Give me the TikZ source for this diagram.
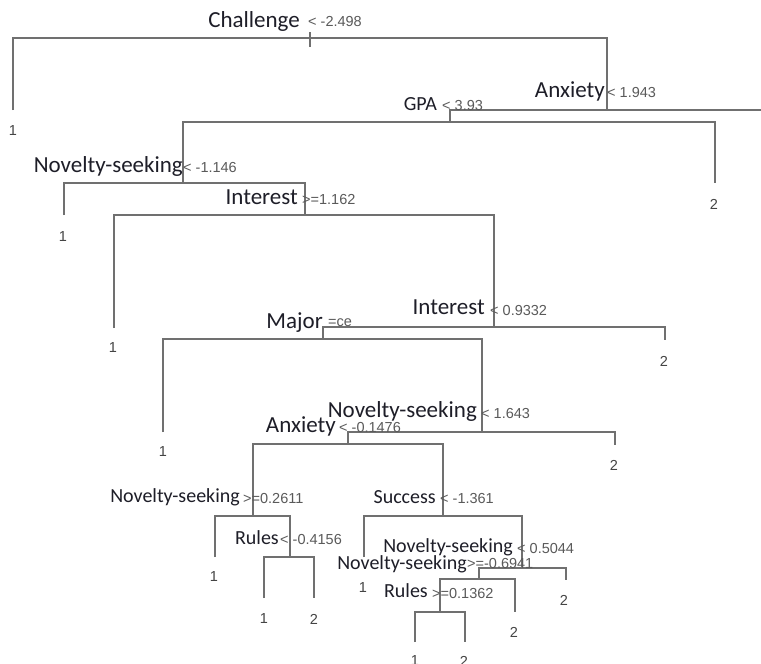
\documentclass[tikz,border=0pt]{standalone}
\usepackage{fontspec}
\setmainfont{Carlito}
\newfontfamily\numfont{Liberation Sans}
\definecolor{linegray}{HTML}{707070}
\definecolor{namecol}{HTML}{1E1E28}
\definecolor{numcol}{HTML}{5A5A5A}
\definecolor{leafcol}{HTML}{444444}
\begin{document}
\begin{tikzpicture}[x=1pt,y=-1pt,
  edge/.style={draw=linegray, line width=1.7pt},
  bigname/.style={anchor=base east, inner sep=0pt, font=\fontsize{23}{23}\selectfont, text=namecol},
  smallname/.style={anchor=base east, inner sep=0pt, font=\fontsize{20}{20}\selectfont, text=namecol},
  thr/.style={anchor=base west, inner sep=0pt, font=\numfont\fontsize{14.5}{14.5}\selectfont, text=numcol},
  leaf/.style={inner sep=0pt, font=\numfont\fontsize{14.5}{14.5}\selectfont, text=leafcol}]
\clip (0,0) rectangle (761,664);
\fill[white] (0,0) rectangle (761,664);
% split bars
\coordinate (rtop) at (310,32);
\coordinate (rbot) at (310,47);
\coordinate (b1) at (310,38);
\coordinate (b2) at (607,110);
\coordinate (offr) at (775,110);
\coordinate (b3) at (450,122);
\coordinate (b4) at (183,183);
\coordinate (b5) at (305,215);
\coordinate (b6) at (494,327);
\coordinate (b7) at (323,339);
\coordinate (b8) at (482,432);
\coordinate (b9) at (348,444);
\coordinate (b10) at (253,516);
\coordinate (b11) at (290,557);
\coordinate (b12) at (443,516);
\coordinate (b13) at (522,568);
\coordinate (b14) at (479,579);
\coordinate (b15) at (440,612);
% leaf ends
\coordinate (L1) at (13,110);
\coordinate (L3) at (715,183);
\coordinate (L4) at (64,215);
\coordinate (L5) at (114,328);
\coordinate (L6) at (665,340);
\coordinate (L7) at (163,432);
\coordinate (L8) at (615,445);
\coordinate (L9) at (215,557);
\coordinate (L10) at (264,598);
\coordinate (L11) at (314,598);
\coordinate (L12) at (364,557);
\coordinate (L13) at (566,580);
\coordinate (L14) at (515,612);
\coordinate (L15) at (415,642);
\coordinate (L16) at (465,642);
% edges
\draw[edge] (rtop) -- (rbot);
\draw[edge] (L1) |- (b1) -| (b2);
\draw[edge] (b3) |- (b2) -- (offr);
\draw[edge] (b4) |- (b3) -| (L3);
\draw[edge] (L4) |- (b4) -| (b5);
\draw[edge] (L5) |- (b5) -| (b6);
\draw[edge] (b7) |- (b6) -| (L6);
\draw[edge] (L7) |- (b7) -| (b8);
\draw[edge] (b9) |- (b8) -| (L8);
\draw[edge] (b10) |- (b9) -| (b12);
\draw[edge] (L9) |- (b10) -| (b11);
\draw[edge] (L10) |- (b11) -| (L11);
\draw[edge] (L12) |- (b12) -| (b13);
\draw[edge] (b14) |- (b13) -| (L13);
\draw[edge] (b15) |- (b14) -| (L14);
\draw[edge] (L15) |- (b15) -| (L16);
% split labels
\node[bigname] (n1) at (300,27) {Challenge};
\node[thr] (t1) at (308,26) {< -2.498};
\node[bigname] (n2) at (605,97) {Anxiety};
\node[thr] (t2) at (607,97) {< 1.943};
\node[smallname] (n3) at (437,110) {GPA};
\node[thr] (t3) at (442,110) {< 3.93};
\node[bigname] (n4) at (183,172) {Novelty-seeking};
\node[thr] (t4) at (183,172) {< -1.146};
\node[bigname] (n5) at (298,204) {Interest};
\node[thr] (t5) at (302,204) {>=1.162};
\node[bigname] (n6) at (485,314) {Interest};
\node[thr] (t6) at (490,315) {< 0.9332};
\node[bigname] (n7) at (323,328) {Major};
\node[thr] (t7) at (328,326) {=ce};
\node[bigname] (n8) at (477,417) {Novelty-seeking};
\node[thr] (t8) at (481,418) {< 1.643};
\node[bigname] (n9) at (336,432) {Anxiety};
\node[thr] (t9) at (339,432) {< -0.1476};
\node[smallname] (n10) at (240,502) {Novelty-seeking};
\node[thr] (t10) at (243,503) {>=0.2611};
\node[smallname] (n11) at (279,544) {Rules};
\node[thr] (t11) at (280,544) {< -0.4156};
\node[smallname] (n12) at (436,503) {Success};
\node[thr] (t12) at (440,503) {< -1.361};
\node[smallname] (n13) at (513,552) {Novelty-seeking};
\node[thr] (t13) at (517,553) {< 0.5044};
\node[smallname] (n14) at (467,569) {Novelty-seeking};
\node[thr] (t14) at (467,568) {>=-0.6941};
\node[smallname] (n15) at (428,597) {Rules};
\node[thr] (t15) at (432,598) {>=0.1362};
% leaf labels
\node[leaf] (f1) at (13,131) {1};
\node[leaf] (f3) at (714,204) {2};
\node[leaf] (f4) at (63,237) {1};
\node[leaf] (f5) at (113,348) {1};
\node[leaf] (f6) at (664,361) {2};
\node[leaf] (f7) at (163,452) {1};
\node[leaf] (f8) at (614,465) {2};
\node[leaf] (f9) at (214,577) {1};
\node[leaf] (f10) at (264,619) {1};
\node[leaf] (f11) at (314,619) {2};
\node[leaf] (f12) at (363,588) {1};
\node[leaf] (f13) at (564,600) {2};
\node[leaf] (f14) at (514,632) {2};
\node[leaf] (f15) at (415,661) {1};
\node[leaf] (f16) at (464,661) {2};
\end{tikzpicture}
\end{document}
